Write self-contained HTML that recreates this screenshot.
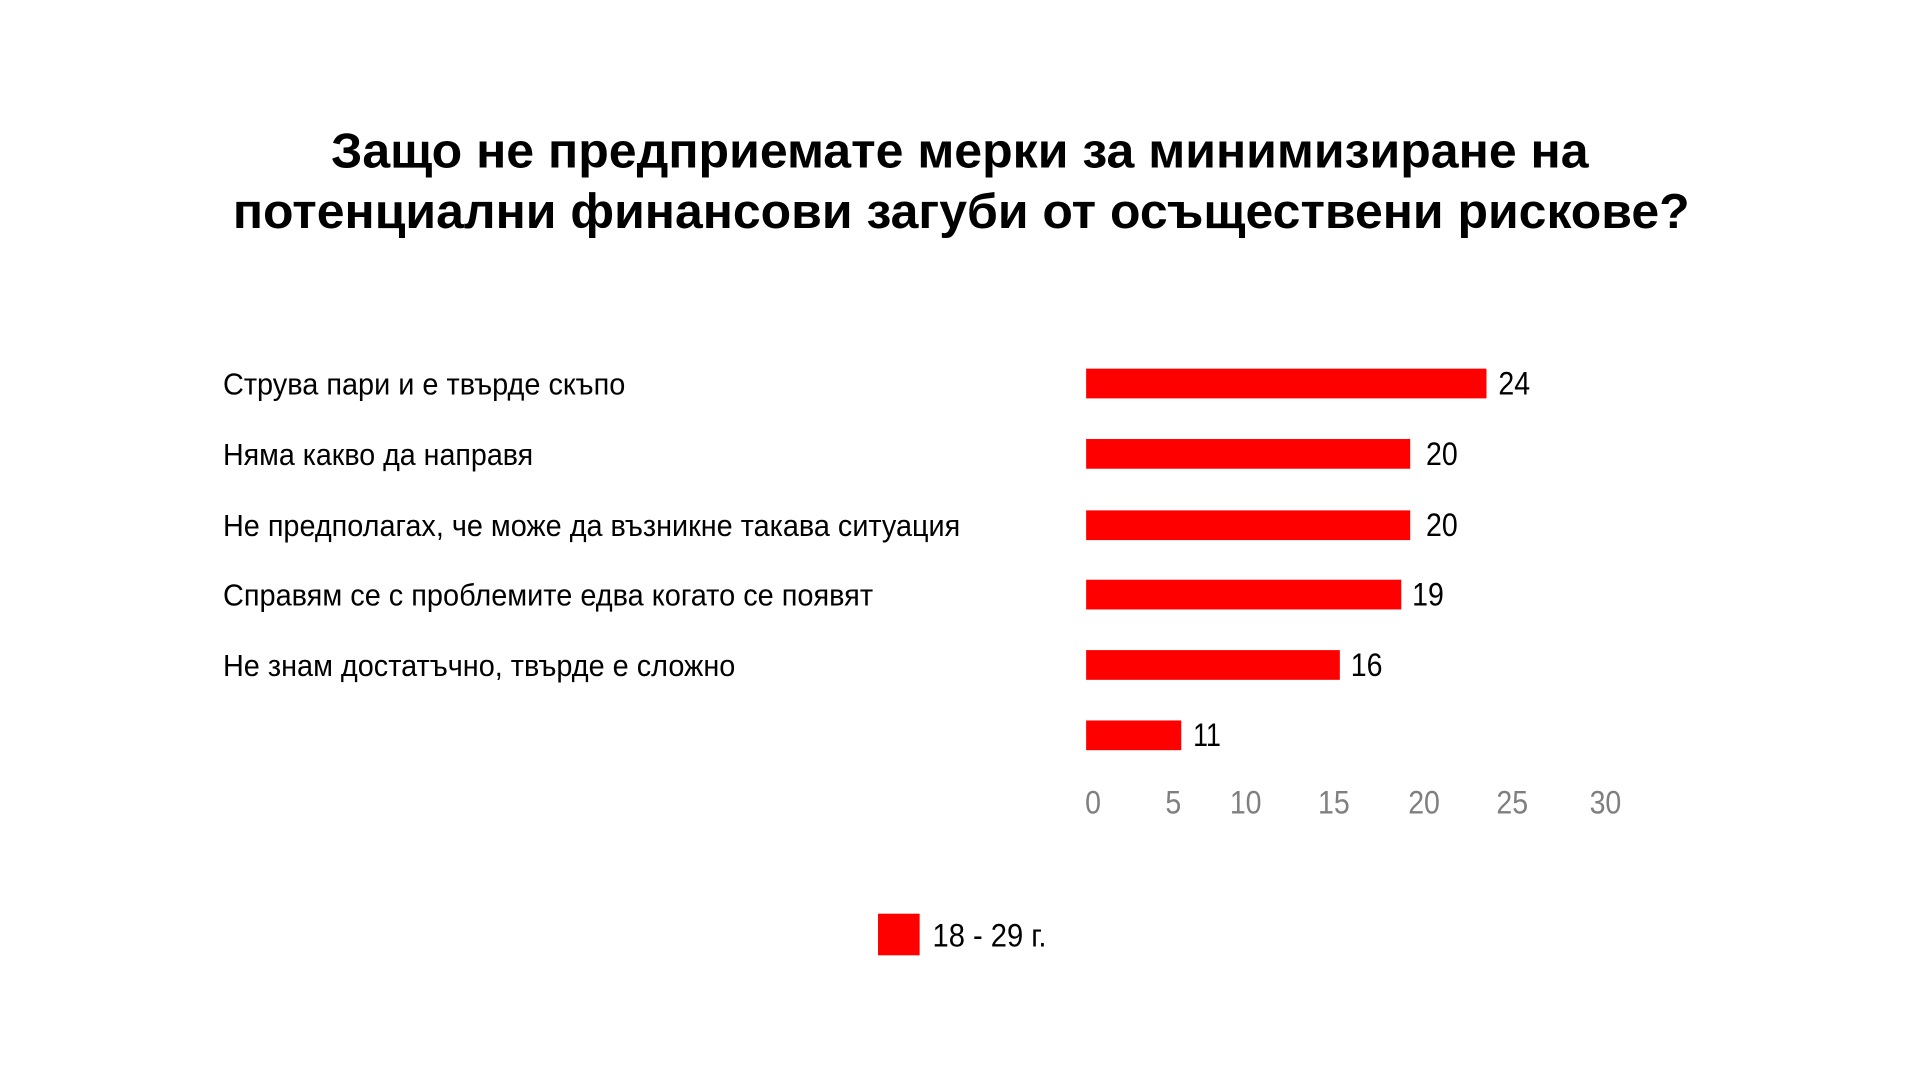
<!DOCTYPE html>
<html><head><meta charset="utf-8"><style>
html,body{margin:0;padding:0;background:#fff;}
svg{display:block;}
text{font-family:"Liberation Sans Narrow","Liberation Sans",sans-serif;}
</style></head><body>
<svg width="1921" height="1080" viewBox="0 0 1921 1080" xmlns="http://www.w3.org/2000/svg">
<rect width="1921" height="1080" fill="#fff"/>
<g transform="scale(0.991)">
<g font-weight="bold" font-size="50" fill="#000">
<text x="334" y="169" textLength="1269" lengthAdjust="spacingAndGlyphs">Защо не предприемате мерки за минимизиране на</text>
<text x="235" y="230" textLength="1470" lengthAdjust="spacingAndGlyphs">потенциални финансови загуби от осъществени рискове?</text>
</g>
<g font-size="31" fill="#000">
<text x="225" y="398" textLength="406" lengthAdjust="spacingAndGlyphs">Струва пари и е твърде скъпо</text>
<text x="225" y="469" textLength="313" lengthAdjust="spacingAndGlyphs">Няма какво да направя</text>
<text x="225" y="541" textLength="744" lengthAdjust="spacingAndGlyphs">Не предполагах, че може да възникне такава ситуация</text>
<text x="225" y="611" textLength="656" lengthAdjust="spacingAndGlyphs">Справям се с проблемите едва когато се появят</text>
<text x="225" y="682" textLength="517" lengthAdjust="spacingAndGlyphs">Не знам достатъчно, твърде е сложно</text>
</g>
<g fill="#ff0000">
<rect x="1096" y="372" width="404" height="30"/>
<rect x="1096" y="443" width="327" height="30"/>
<rect x="1096" y="515" width="327" height="30"/>
<rect x="1096" y="585" width="318" height="30"/>
<rect x="1096" y="656" width="256" height="30"/>
<rect x="1096" y="727" width="96" height="30"/>
</g>
<g font-size="33" fill="#000" lengthAdjust="spacingAndGlyphs">
<text x="1512" y="398" textLength="32" lengthAdjust="spacingAndGlyphs">24</text>
<text x="1439" y="469" textLength="32" lengthAdjust="spacingAndGlyphs">20</text>
<text x="1439" y="541" textLength="32" lengthAdjust="spacingAndGlyphs">20</text>
<text x="1425" y="611" textLength="32" lengthAdjust="spacingAndGlyphs">19</text>
<text x="1363" y="682" textLength="32" lengthAdjust="spacingAndGlyphs">16</text>
<text x="1204" y="753" textLength="28" lengthAdjust="spacingAndGlyphs">11</text>
</g>
<g font-size="33" fill="#7f7f7f" text-anchor="middle">
<text x="1103" y="821" textLength="16" lengthAdjust="spacingAndGlyphs">0</text>
<text x="1184" y="821" textLength="16" lengthAdjust="spacingAndGlyphs">5</text>
<text x="1257" y="821" textLength="32" lengthAdjust="spacingAndGlyphs">10</text>
<text x="1346" y="821" textLength="32" lengthAdjust="spacingAndGlyphs">15</text>
<text x="1437" y="821" textLength="32" lengthAdjust="spacingAndGlyphs">20</text>
<text x="1526" y="821" textLength="32" lengthAdjust="spacingAndGlyphs">25</text>
<text x="1620" y="821" textLength="32" lengthAdjust="spacingAndGlyphs">30</text>
</g>
<rect x="886" y="922" width="42" height="42" fill="#ff0000"/>
<text x="941" y="955" font-size="33" fill="#000" textLength="115" lengthAdjust="spacingAndGlyphs">18 - 29 г.</text>
</g>
</svg>
</body></html>
